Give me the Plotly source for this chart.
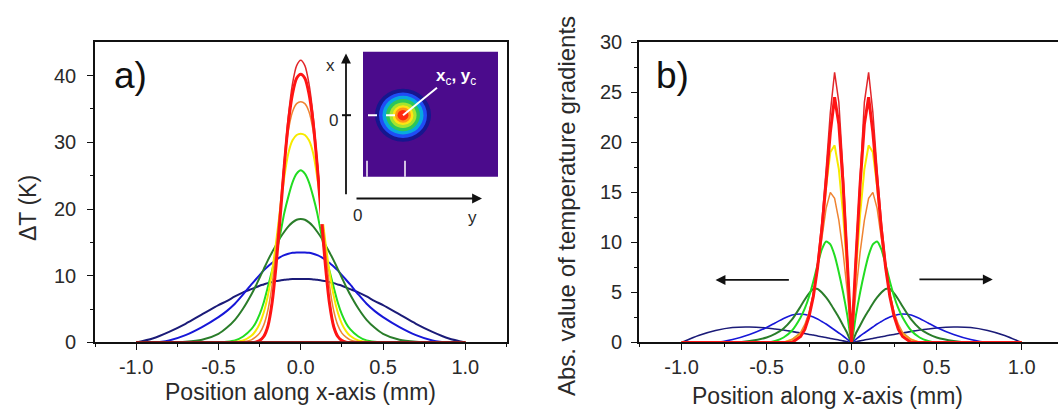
import plotly.graph_objects as go

FONT = "Liberation Sans, Arial, sans-serif"
W, H = 1058, 416

# ---------------- data ----------------
X = [-1.0, -0.9, -0.8, -0.7, -0.6, -0.5, -0.45, -0.4, -0.35, -0.3, -0.275, -0.25, -0.225, -0.2,
     -0.175, -0.15, -0.125, -0.1, -0.075, -0.05, -0.025, 0.0, 0.025, 0.05, 0.075, 0.1, 0.125,
     0.15, 0.175, 0.2, 0.225, 0.25, 0.275, 0.3, 0.35, 0.4, 0.45, 0.5, 0.6, 0.7, 0.8, 0.9, 1.0]

# panel a: temperature rise (K)
a_navy = [0, 0.6, 1.6, 2.8, 4.2, 5.6, 6.2, 6.9, 7.5, 8.0, 8.25, 8.5, 8.7, 8.9, 9.05, 9.2, 9.3, 9.4, 9.45, 9.5, 9.5, 9.5,
          9.5, 9.5, 9.45, 9.4, 9.3, 9.2, 9.05, 8.9, 8.7, 8.5, 8.25, 8.0, 7.5, 6.9, 6.2, 5.6, 4.2, 2.8, 1.6, 0.6, 0]
a_blue = [0, 0, 0.3, 1.1, 2.3, 3.8, 4.7, 5.8, 7.2, 8.7, 9.4, 10.1, 10.8, 11.4, 11.9, 12.4, 12.8, 13.1, 13.3, 13.45, 13.5, 13.5,
          13.5, 13.45, 13.3, 13.1, 12.8, 12.4, 11.9, 11.4, 10.8, 10.1, 9.4, 8.7, 7.2, 5.8, 4.7, 3.8, 2.3, 1.1, 0.3, 0, 0]
a_dkgreen = [0, 0, 0, 0.1, 0.4, 1.3, 2.2, 3.4, 5.1, 7.2, 8.4, 9.7, 11.0, 12.3, 13.5, 14.6, 15.7, 16.6, 17.4, 18.0, 18.4, 18.5,
             18.4, 18.0, 17.4, 16.6, 15.7, 14.6, 13.5, 12.3, 11.0, 9.7, 8.4, 7.2, 5.1, 3.4, 2.2, 1.3, 0.4, 0.1, 0, 0, 0]
a_green = [0, 0, 0, 0, 0, 0, 0.1, 0.3, 0.9, 2.0, 2.9, 4.2, 6.0, 8.3, 10.7, 13.2, 16.2, 19.4, 21.9, 24.0, 25.3, 25.8,
           25.3, 24.0, 21.9, 19.4, 16.2, 13.2, 10.7, 8.3, 6.0, 4.2, 2.9, 2.0, 0.9, 0.3, 0.1, 0, 0, 0, 0, 0, 0]
a_yellow = [0, 0, 0, 0, 0, 0, 0, 0.1, 0.3, 1.0, 1.7, 2.8, 4.5, 7.0, 10.5, 15.0, 20.0, 24.8, 28.4, 30.3, 31.1, 31.3,
            31.1, 30.3, 28.4, 24.8, 20.0, 15.0, 10.5, 7.0, 4.5, 2.8, 1.7, 1.0, 0.3, 0.1, 0, 0, 0, 0, 0, 0, 0]
a_orange = [0, 0, 0, 0, 0, 0, 0, 0, 0.1, 0.4, 0.8, 1.4, 2.6, 4.8, 8.5, 13.8, 20.5, 27.0, 31.8, 34.6, 35.8, 36.1,
            35.8, 34.6, 31.8, 27.0, 20.5, 13.8, 8.5, 4.8, 2.6, 1.4, 0.8, 0.4, 0.1, 0, 0, 0, 0, 0, 0, 0, 0]
a_red_thin = [0, 0, 0, 0, 0, 0, 0, 0, 0, 0, 0.05, 0.3, 0.9, 2.5, 6.0, 11.8, 19.2, 27.2, 34.0, 38.8, 41.5, 42.3,
              41.5, 38.8, 34.0, 27.2, 19.2, 11.8, 6.0, 2.5, 0.9, 0.3, 0.05, 0, 0, 0, 0, 0, 0, 0, 0, 0, 0]
a_red_thick = [0, 0, 0, 0, 0, 0, 0, 0, 0, 0, 0.05, 0.3, 0.9, 2.4, 5.8, 11.5, 18.8, 26.5, 33.0, 37.3, 39.6, 40.2,
               39.6, 37.3, 33.0, 26.5, 18.8, 11.5, 5.8, 2.4, 0.9, 0.3, 0.05, 0, 0, 0, 0, 0, 0, 0, 0, 0, 0]
a_base = [0, 0, 0, 0, 0, 0, 0, 0, 0, 0, 0, 0, 0, 0, 0, 0, 0, 0, 0, 0, 0, 0,
          0, 0, 0, 0, 0, 0, 0, 0, 0, 0, 0, 0, 0, 0, 0, 0, 0, 0, 0, 0, 0]

# panel b: absolute temperature gradient
b_navy = [0, 0.7, 1.2, 1.5, 1.55, 1.45, 1.35, 1.25, 1.1, 0.95, 0.9, 0.8, 0.75, 0.65, 0.58, 0.5, 0.4, 0.32, 0.25, 0.16, 0.08, 0,
          0.08, 0.16, 0.25, 0.32, 0.4, 0.5, 0.58, 0.65, 0.75, 0.8, 0.9, 0.95, 1.1, 1.25, 1.35, 1.45, 1.55, 1.5, 1.2, 0.7, 0]
b_blue = [0, 0, 0, 0.3, 0.8, 1.5, 1.95, 2.4, 2.75, 2.85, 2.8, 2.7, 2.55, 2.35, 2.1, 1.85, 1.55, 1.25, 0.95, 0.65, 0.32, 0,
          0.32, 0.65, 0.95, 1.25, 1.55, 1.85, 2.1, 2.35, 2.55, 2.7, 2.8, 2.85, 2.75, 2.4, 1.95, 1.5, 0.8, 0.3, 0, 0, 0]
b_dkgreen = [0, 0, 0, 0, 0.15, 0.5, 0.85, 1.4, 2.3, 3.6, 4.3, 4.9, 5.35, 5.35, 5.0, 4.5, 3.9, 3.2, 2.5, 1.7, 0.9, 0,
             0.9, 1.7, 2.5, 3.2, 3.9, 4.5, 5.0, 5.35, 5.35, 4.9, 4.3, 3.6, 2.3, 1.4, 0.85, 0.5, 0.15, 0, 0, 0, 0]
b_green = [0, 0, 0, 0, 0, 0, 0.15, 0.5, 1.2, 2.5, 3.4, 4.6, 6.1, 7.8, 9.3, 10.1, 9.8, 8.7, 7.0, 5.0, 2.7, 0,
           2.7, 5.0, 7.0, 8.7, 9.8, 10.1, 9.3, 7.8, 6.1, 4.6, 3.4, 2.5, 1.2, 0.5, 0.15, 0, 0, 0, 0, 0, 0]
b_orange = [0, 0, 0, 0, 0, 0, 0, 0, 0.3, 1.0, 1.8, 3.0, 4.9, 7.4, 10.4, 13.4, 15.0, 14.4, 12.2, 9.0, 5.0, 0,
            5.0, 9.0, 12.2, 14.4, 15.0, 13.4, 10.4, 7.4, 4.9, 3.0, 1.8, 1.0, 0.3, 0, 0, 0, 0, 0, 0, 0, 0]
b_yellow = [0, 0, 0, 0, 0, 0, 0, 0, 0.3, 0.9, 1.6, 2.8, 4.7, 7.5, 11.3, 15.6, 19.0, 19.7, 17.3, 12.8, 7.0, 0,
            7.0, 12.8, 17.3, 19.7, 19.0, 15.6, 11.3, 7.5, 4.7, 2.8, 1.6, 0.9, 0.3, 0, 0, 0, 0, 0, 0, 0, 0]
b_red_thin = [0, 0, 0, 0, 0, 0, 0, 0, 0, 0.6, 1.3, 2.7, 4.8, 7.9, 12.0, 17.2, 23.0, 27.0, 24.0, 17.0, 8.8, 0,
              8.8, 17.0, 24.0, 27.0, 23.0, 17.2, 12.0, 7.9, 4.8, 2.7, 1.3, 0.6, 0, 0, 0, 0, 0, 0, 0, 0, 0]
b_red_thick = [0, 0, 0, 0, 0, 0, 0, 0, 0, 0.6, 1.3, 2.6, 4.6, 7.5, 11.3, 16.0, 21.0, 24.5, 21.8, 15.8, 8.2, 0,
               8.2, 15.8, 21.8, 24.5, 21.0, 16.0, 11.3, 7.5, 4.6, 2.6, 1.3, 0.6, 0, 0, 0, 0, 0, 0, 0, 0, 0]

# tick labels
x_tickvals = [-1.0, -0.5, 0.0, 0.5, 1.0]
x_ticktext = ["-1.0", "-0.5", "0.0", "0.5", "1.0"]
x_minor = [-1.25, -0.75, -0.25, 0.25, 0.75, 1.25]
ya_tickvals = [0, 10, 20, 30, 40]
ya_ticktext = ["0", "10", "20", "30", "40"]
ya_minor = [5, 15, 25, 35]
yb_tickvals = [0, 5, 10, 15, 20, 25, 30]
yb_ticktext = ["0", "5", "10", "15", "20", "25", "30"]
yb_minor = [2.5, 7.5, 12.5, 17.5, 22.5, 27.5]

# arrows in panel b (head x, tail x, y)
b_arrows = [(-0.80, -0.36, 6.25), (0.83, 0.39, 6.3)]

# inset schematic (inset units)
ring_r = [28, 24, 20.5, 17, 13.5, 10.5, 8, 5.5]
ring_colors = ["#16168e", "#1f4df5", "#08a8e0", "#2cc65a", "#a6e42e", "#ffe414", "#ff9418", "#ff2a10"]
spot_c = (83, 115)

# ---------------- figure ----------------
fig = go.Figure()

styles = [
    ("navy", "#1b1b78", 2.0),
    ("blue", "#1717d8", 2.0),
    ("dkgreen", "#2a7d2a", 2.0),
    ("green", "#22dc22", 2.0),
    ("yellow", "#f7ea00", 2.0),
    ("orange", "#ef8432", 1.5),
    ("red_thin", "#e2262a", 1.5),
    ("red_thick", "#ff1414", 3.0),
]
a_series = [a_navy, a_blue, a_dkgreen, a_green, a_yellow, a_orange, a_red_thin, a_red_thick]
b_series = [b_navy, b_blue, b_dkgreen, b_green, b_yellow, b_orange, b_red_thin, b_red_thick]

for (name, col, lw), ys in zip(styles, a_series):
    fig.add_trace(go.Scatter(x=X, y=ys, mode="lines", line=dict(color=col, width=lw, shape="spline", smoothing=0.7),
                             xaxis="x", yaxis="y", showlegend=False, hoverinfo="skip"))
fig.add_trace(go.Scatter(x=X, y=a_base, mode="lines", line=dict(color="#8e1c1c", width=3),
                         xaxis="x", yaxis="y", showlegend=False, hoverinfo="skip"))

for (name, col, lw), ys in zip(styles, b_series):
    wide = name in ("navy", "blue", "dkgreen", "green")
    ln = dict(color=col, width=lw * (0.8 if name in ("navy", "blue") else 1.0),
              shape="spline" if wide else "linear")
    if wide:
        ln["smoothing"] = 0.6
    fig.add_trace(go.Scatter(x=X, y=ys, mode="lines", line=ln,
                             xaxis="x2", yaxis="y2", showlegend=False, hoverinfo="skip"))

# invisible trace to instantiate inset axes
fig.add_trace(go.Scatter(x=[0, 180], y=[0, 185], mode="markers", marker=dict(opacity=0),
                         xaxis="x3", yaxis="y3", showlegend=False, hoverinfo="skip"))

axis_common = dict(showline=True, linecolor="#111", linewidth=1.6, ticks="outside", tickcolor="#111",
                   tickwidth=1.4, ticklen=6, showgrid=False, zeroline=False,
                   tickfont=dict(family=FONT, size=20, color="#2a2a2a"), tickmode="array")
minor_common = dict(ticks="outside", ticklen=3, tickwidth=1.2, tickcolor="#111", showgrid=False)

def px2x(p):
    return p / W

def py2y(p):
    return 1 - p / H

fig.update_layout(
    width=W, height=H, margin=dict(l=0, r=0, t=0, b=0),
    paper_bgcolor="white", plot_bgcolor="white",
    xaxis=dict(axis_common, domain=[px2x(95), px2x(506.5)], range=[-1.25, 1.25], anchor="y", mirror=True,
               tickvals=x_tickvals, ticktext=x_ticktext,
               minor=dict(minor_common, tickmode="array", tickvals=x_minor)),
    yaxis=dict(axis_common, domain=[py2y(350), py2y(33)], range=[0, 45], anchor="x", mirror=True,
               tickvals=ya_tickvals, ticktext=ya_ticktext, ticklabelstandoff=7,
               minor=dict(minor_common, tickmode="array", tickvals=ya_minor)),
    xaxis2=dict(axis_common, domain=[px2x(639), 1.0], range=[-1.25, 1.2135], anchor="y2", mirror=True,
                tickvals=x_tickvals, ticktext=x_ticktext,
                minor=dict(minor_common, tickmode="array", tickvals=x_minor)),
    yaxis2=dict(axis_common, domain=[py2y(350), py2y(33)], range=[0, 30], anchor="x2", mirror=False,
                tickvals=yb_tickvals, ticktext=yb_ticktext, ticklabelstandoff=5,
                minor=dict(minor_common, tickmode="array", tickvals=yb_minor)),
    xaxis3=dict(domain=[px2x(320), px2x(500)], range=[0, 180], visible=False, anchor="y3", fixedrange=True),
    yaxis3=dict(domain=[py2y(225), py2y(40)], range=[0, 185], visible=False, anchor="x3", fixedrange=True),
)

shapes = []
# inset purple square
shapes.append(dict(type="rect", xref="x3", yref="y3", x0=43, x1=178, y0=50, y1=182,
                   fillcolor="#4b0b8c", line=dict(width=0), layer="above"))
for r, c in zip(ring_r, ring_colors):
    shapes.append(dict(type="circle", xref="x3", yref="y3", x0=spot_c[0] - r, x1=spot_c[0] + r,
                       y0=spot_c[1] - r, y1=spot_c[1] + r, fillcolor=c, line=dict(width=0), layer="above"))
# white markers
shapes.append(dict(type="line", xref="x3", yref="y3", x0=30, x1=spot_c[0], y0=spot_c[1], y1=spot_c[1],
                   line=dict(color="white", width=2, dash="dash"), layer="above"))
shapes.append(dict(type="line", xref="x3", yref="y3", x0=spot_c[0], x1=117, y0=spot_c[1], y1=144,
                   line=dict(color="white", width=2), layer="above"))
for ux in (47, 85):
    shapes.append(dict(type="line", xref="x3", yref="y3", x0=ux, x1=ux, y0=50, y1=67,
                       line=dict(color="white", width=1.5), layer="above"))
# inset axis tick
shapes.append(dict(type="line", xref="x3", yref="y3", x0=22, x1=31, y0=115, y1=115,
                   line=dict(color="#111", width=2), layer="above"))

annotations = []
def txt(x, y, s, size, color="#2a2a2a", angle=0, xref="paper", yref="paper", **kw):
    annotations.append(dict(x=x, y=y, xref=xref, yref=yref, text=s, showarrow=False, textangle=angle,
                            font=dict(family=FONT, size=size, color=color), xanchor="center", yanchor="middle", **kw))

txt(px2x(28), py2y(208), "ΔT (K)", 23, angle=-90)
txt(px2x(300), py2y(402), "Position along x-axis (mm)", 23)
txt(px2x(566), py2y(206), "Abs. value of temperature gradients", 24, angle=-90)
txt(px2x(827), py2y(407), "Position along x-axis (mm)", 23)
txt(px2x(130), py2y(68), "a)", 37, color="#111")
txt(px2x(672), py2y(68), "b)", 37, color="#111")
# inset labels
txt(10, 167, "x", 17, xref="x3", yref="y3")
txt(13, 109, "0", 17, xref="x3", yref="y3")
txt(37, 9, "0", 17, xref="x3", yref="y3")
txt(152, 7, "y", 17, xref="x3", yref="y3")
txt(136, 155, "<b>x</b><sub>c</sub><b>, y</b><sub>c</sub>", 17, color="white", xref="x3", yref="y3")

# inset axis arrows
for (hx, hy, tx, ty) in [(26, 180, 26, 30), (162, 27, 35, 27)]:
    annotations.append(dict(x=hx, y=hy, ax=tx, ay=ty, xref="x3", yref="y3", axref="x3", ayref="y3",
                            text="", showarrow=True, arrowhead=2, arrowsize=1.1, arrowwidth=1.8, arrowcolor="#111"))
# panel b arrows
for (hx, tx, yy) in b_arrows:
    annotations.append(dict(x=hx, y=yy, ax=tx, ay=yy, xref="x2", yref="y2", axref="x2", ayref="y2",
                            text="", showarrow=True, arrowhead=2, arrowsize=1.1, arrowwidth=1.8, arrowcolor="#111"))

fig.update_layout(shapes=shapes, annotations=annotations)
fig.write_html("out.html", config={"displayModeBar": False},
               post_script="document.body.style.margin='0';document.body.style.padding='0';")
